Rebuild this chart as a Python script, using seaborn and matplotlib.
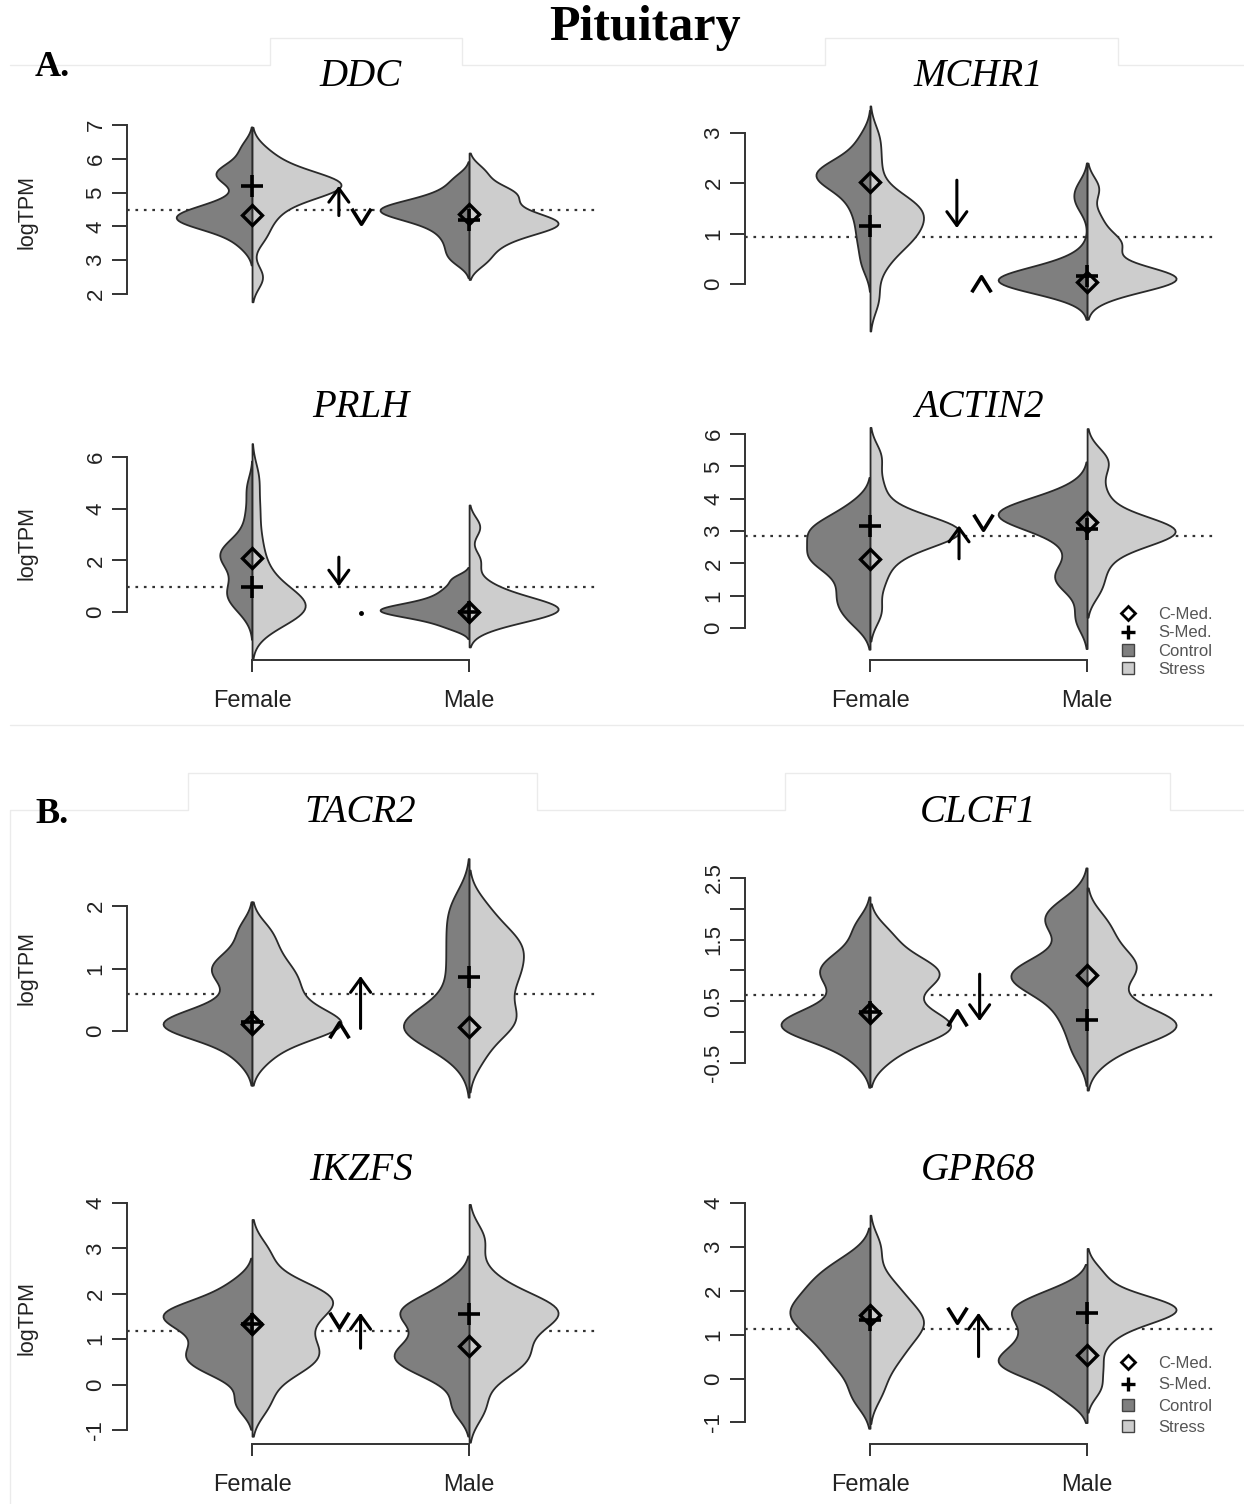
import matplotlib
matplotlib.use("Agg")
import matplotlib.pyplot as plt
from matplotlib.lines import Line2D
from matplotlib.path import Path
import pandas as pd
import seaborn as sns

sns.set_theme(style="white")
plt.rcParams['font.family'] = ['Liberation Sans', 'DejaVu Sans']

""" Données lues sur la figure """
genes = ["DDC", "MCHR1", "PRLH", "ACTIN2", "TACR2", "CLCF1", "IKZFS", "GPR68"]
sexes = ["Female", "Male"]
groups = ["Control", "Stress"]

# logTPM, one list per sex x condition
ddc_f_ctrl = [3.5, 3.9, 4.05, 4.15, 4.2, 4.25, 4.3, 4.35, 4.45, 4.6, 4.8, 5.35, 5.5, 5.6, 5.75, 6.3]
ddc_f_str = [2.5, 3.7, 4.2, 4.5, 4.8, 4.95, 5.05, 5.15, 5.2, 5.25, 5.3, 5.35, 5.45, 5.6, 5.85, 6.2]
ddc_m_ctrl = [3.0, 3.3, 3.6, 3.85, 4.05, 4.2, 4.3, 4.4, 4.45, 4.5, 4.55, 4.6, 4.7, 4.85, 5.05, 5.4]
ddc_m_str = [3.0, 3.4, 3.65, 3.85, 3.95, 4.05, 4.1, 4.15, 4.25, 4.4, 4.6, 4.85, 5.0, 5.1, 5.6]

mchr1_f_ctrl = [0.4, 0.8, 1.1, 1.4, 1.6, 1.8, 1.95, 2.05, 2.1, 2.15, 2.2, 2.25, 2.3, 2.4, 2.6, 2.9]
mchr1_f_str = [-0.3, 0.3, 0.6, 0.8, 0.9, 1.0, 1.1, 1.2, 1.35, 1.45, 1.5, 1.55, 1.65, 1.9, 2.4, 2.9]
mchr1_m_ctrl = [-0.2, -0.05, 0.0, 0.02, 0.04, 0.05, 0.07, 0.1, 0.12, 0.15, 0.2, 0.3, 0.5, 1.6, 1.9]
mchr1_m_str = [-0.2, 0.0, 0.05, 0.08, 0.1, 0.12, 0.15, 0.2, 0.3, 0.7, 0.8, 0.9, 1.3, 1.9]

prlh_f_ctrl = [0.0, 0.4, 0.6, 0.7, 0.9, 1.2, 1.6, 1.9, 2.1, 2.2, 2.3, 2.45, 2.6, 3.0, 3.8, 4.8]
prlh_f_str = [-0.5, -0.2, -0.05, 0.05, 0.1, 0.2, 0.3, 0.45, 0.6, 0.8, 1.1, 1.5, 2.1, 2.9, 4.0, 5.2]
prlh_m_ctrl = [-0.6, -0.35, -0.2, -0.1, 0.0, 0.05, 0.1, 0.15, 0.25, 0.35, 0.5, 0.7, 0.95, 1.3]
prlh_m_str = [-0.5, -0.25, -0.1, 0.0, 0.05, 0.1, 0.15, 0.25, 0.35, 0.5, 0.75, 1.1, 2.0, 3.3]

actin2_f_ctrl = [0.2, 0.6, 0.9, 1.2, 1.6, 1.9, 2.1, 2.2, 2.3, 2.5, 2.8, 2.95, 3.05, 3.15, 3.4, 3.8]
actin2_f_str = [0.5, 1.4, 2.0, 2.4, 2.65, 2.8, 2.9, 2.95, 3.0, 3.05, 3.1, 3.2, 3.4, 3.7, 4.4, 5.3]
actin2_m_ctrl = [0.3, 1.3, 1.55, 1.75, 2.4, 2.9, 3.2, 3.35, 3.45, 3.5, 3.55, 3.6, 3.7, 3.85, 4.2]
actin2_m_str = [1.2, 1.8, 2.3, 2.6, 2.8, 2.9, 2.95, 3.0, 3.05, 3.1, 3.2, 3.4, 3.8, 4.3, 5.0, 5.3]

tacr2_f_ctrl = [-0.4, -0.1, 0.0, 0.05, 0.1, 0.12, 0.15, 0.2, 0.3, 0.5, 0.8, 0.95, 1.05, 1.2, 1.6]
tacr2_f_str = [-0.4, -0.1, 0.0, 0.05, 0.1, 0.15, 0.2, 0.3, 0.45, 0.6, 0.75, 0.9, 1.05, 1.3, 1.6]
tacr2_m_ctrl = [-0.4, -0.1, 0.0, 0.05, 0.08, 0.1, 0.15, 0.3, 0.6, 0.9, 1.2, 1.5, 1.8, 2.1]
tacr2_m_str = [-0.4, 0.0, 0.1, 0.2, 0.35, 0.55, 0.75, 0.88, 1.0, 1.15, 1.3, 1.4, 1.5, 1.7, 2.0]

clcf1_f_ctrl = [-0.4, -0.1, 0.0, 0.05, 0.1, 0.15, 0.2, 0.3, 0.45, 0.7, 0.9, 1.0, 1.1, 1.3, 1.7]
clcf1_f_str = [-0.4, -0.1, 0.0, 0.05, 0.1, 0.2, 0.3, 0.5, 0.7, 0.85, 0.95, 1.0, 1.1, 1.3, 1.6]
clcf1_m_ctrl = [-0.3, 0.1, 0.35, 0.6, 0.75, 0.85, 0.9, 0.95, 1.0, 1.1, 1.3, 1.7, 1.8, 1.9, 2.1]
clcf1_m_str = [-0.4, -0.1, 0.0, 0.05, 0.1, 0.15, 0.2, 0.3, 0.5, 0.8, 1.0, 1.1, 1.2, 1.5, 1.8]

ikzfs_f_ctrl = [-0.4, 0.2, 0.4, 0.55, 0.65, 0.8, 1.0, 1.2, 1.35, 1.45, 1.55, 1.6, 1.7, 1.85, 2.2]
ikzfs_f_str = [-0.4, 0.2, 0.45, 0.6, 0.7, 0.9, 1.15, 1.35, 1.6, 1.75, 1.85, 1.95, 2.05, 2.3, 2.9]
ikzfs_m_ctrl = [-0.5, 0.1, 0.35, 0.5, 0.6, 0.7, 0.85, 1.05, 1.3, 1.5, 1.6, 1.7, 1.85, 2.2]
ikzfs_m_str = [-0.5, 0.2, 0.45, 0.6, 0.75, 1.0, 1.25, 1.45, 1.55, 1.6, 1.7, 1.8, 2.0, 2.4, 3.2]

gpr68_f_ctrl = [-0.4, 0.2, 0.5, 0.8, 1.0, 1.2, 1.4, 1.5, 1.6, 1.8, 2.0, 2.2, 2.4, 2.7]
gpr68_f_str = [-0.3, 0.2, 0.5, 0.7, 0.9, 1.1, 1.25, 1.3, 1.4, 1.6, 1.8, 2.0, 2.3, 3.0]
gpr68_m_ctrl = [-0.4, 0.0, 0.2, 0.3, 0.4, 0.55, 0.7, 0.9, 1.1, 1.3, 1.5, 1.6, 1.75, 2.0]
gpr68_m_str = [-0.2, 0.3, 0.8, 1.1, 1.3, 1.4, 1.5, 1.55, 1.6, 1.65, 1.7, 1.8, 2.0, 2.4]

samples = [
    (ddc_f_ctrl, ddc_f_str, ddc_m_ctrl, ddc_m_str),
    (mchr1_f_ctrl, mchr1_f_str, mchr1_m_ctrl, mchr1_m_str),
    (prlh_f_ctrl, prlh_f_str, prlh_m_ctrl, prlh_m_str),
    (actin2_f_ctrl, actin2_f_str, actin2_m_ctrl, actin2_m_str),
    (tacr2_f_ctrl, tacr2_f_str, tacr2_m_ctrl, tacr2_m_str),
    (clcf1_f_ctrl, clcf1_f_str, clcf1_m_ctrl, clcf1_m_str),
    (ikzfs_f_ctrl, ikzfs_f_str, ikzfs_m_ctrl, ikzfs_m_str),
    (gpr68_f_ctrl, gpr68_f_str, gpr68_m_ctrl, gpr68_m_str),
]

# medians (C-Med = control, S-Med = stress) and dotted reference line
c_med_female = [4.34, 2.03, 2.10, 2.14, 0.12, 0.31, 1.34, 1.46]
c_med_male = [4.37, 0.03, 0.00, 3.27, 0.07, 0.93, 0.84, 0.54]
s_med_female = [5.19, 1.15, 0.99, 3.14, 0.15, 0.32, 1.33, 1.33]
s_med_male = [4.20, 0.16, 0.00, 3.07, 0.86, 0.19, 1.56, 1.49]
ref_line = [4.47, 0.93, 0.97, 2.84, 0.585, 0.61, 1.19, 1.12]

# arrows (change direction) and chevrons between the sexes
arrow_x = [0.40, 0.40, 0.40, 0.41, 0.50, 0.505, 0.50, 0.50]
arrow_from = [4.32, 2.06, 2.13, 2.14, 0.04, 0.94, 0.80, 0.50]
arrow_to = [5.20, 1.11, 0.99, 3.17, 0.88, 0.18, 1.58, 1.50]
chevron_x = [0.50, 0.51, 0.50, 0.52, 0.40, 0.40, 0.40, 0.40]
chevron_y = [4.32, 0.00, -0.03, 3.27, 0.02, 0.23, 1.43, 1.46]
chevron_kind = ["v", "^", ".", "v", "^", "^", "v", "v"]

# axis ticks per gene
ticks = [
    [2, 3, 4, 5, 6, 7],
    [0, 1, 2, 3],
    [0, 2, 4, 6],
    [0, 1, 2, 3, 4, 5, 6],
    [0, 1, 2],
    [-0.5, 0, 0.5, 1, 1.5, 2, 2.5],
    [-1, 0, 1, 2, 3, 4],
    [-1, 0, 1, 2, 3, 4],
]
tick_labels = [
    ["2", "3", "4", "5", "6", "7"],
    ["0", "1", "2", "3"],
    ["0", "2", "4", "6"],
    ["0", "1", "2", "3", "4", "5", "6"],
    ["0", "1", "2"],
    ["-0.5", "", "0.5", "", "1.5", "", "2.5"],
    ["-1", "0", "1", "2", "3", "4"],
    ["-1", "0", "1", "2", "3", "4"],
]

""" Mise en page (pixels) """
W, H = 1244, 1504
def fx(px):
    return px / W
def fy(py):
    return 1 - py / H

col_left = [127, 745]
axw = 468
xlim = (-0.576, 1.58)
rows = [(80, 330), (420, 660), (845, 1100), (1185, 1444)]
ylims = [(0.935, 8.33), (-0.915, 4.05), (-1.857, 7.446), (-0.99, 6.433),
         (-1.104, 2.976), (-1.10, 3.035), (-1.308, 4.396), (-1.495, 4.418)]
title_y = [77, 408, 812, 1170]
ylab_y = [212, 543, 968, 1318]

ctrl_col, str_col = "#7f7f7f", "#cdcdcd"
ink = "#222222"

chev_paths = {
    "v": Path([(-1, 0.8), (0, -0.8), (1, 0.8)], [Path.MOVETO, Path.LINETO, Path.LINETO]),
    "^": Path([(-1, -0.8), (0, 0.8), (1, -0.8)], [Path.MOVETO, Path.LINETO, Path.LINETO]),
}

fig = plt.figure(figsize=(W / 100, H / 100), dpi=100)
fig.patch.set_facecolor("white")

# cadres gris clair hérités du montage
frame_lines = [
    [(10, 65), (270, 65), (270, 38), (462, 38), (462, 65), (825, 65), (825, 38), (1118, 38), (1118, 65), (1244, 65)],
    [(10, 725), (1244, 725)],
    [(10, 1504), (10, 810), (188, 810), (188, 773), (537, 773), (537, 810), (785, 810), (785, 773), (1170, 773), (1170, 810), (1244, 810)],
]
for pl in frame_lines:
    fig.add_artist(Line2D([fx(p[0]) for p in pl], [fy(p[1]) for p in pl],
                          transform=fig.transFigure, color="#ebebeb", lw=1.0))

for i, gene in enumerate(genes):
    r, c = i // 2, i % 2
    top, bot = rows[r]
    ax = fig.add_axes([fx(col_left[c]), fy(bot), axw / W, (bot - top) / H])
    ax.patch.set_alpha(0)

    f_ctrl, f_str, m_ctrl, m_str = samples[i]
    recs = []
    for sex, grp, vals in [("Female", "Control", f_ctrl), ("Female", "Stress", f_str),
                           ("Male", "Control", m_ctrl), ("Male", "Stress", m_str)]:
        recs += [(sex, grp, v) for v in vals]
    df = pd.DataFrame(recs, columns=["sex", "group", "logTPM"])

    ax.axhline(ref_line[i], color="#333333", ls=(0, (1.2, 2.6)), lw=1.6, zorder=0)
    sns.violinplot(data=df, x="sex", y="logTPM", hue="group", order=sexes, hue_order=groups,
                   split=True, inner=None, density_norm="area", width=0.82, cut=2.2,
                   bw_adjust=0.65, saturation=1, palette={"Control": ctrl_col, "Stress": str_col},
                   linecolor="#2a2a2a", linewidth=1.3, legend=False, ax=ax)
    for coll in ax.collections:
        coll.set_clip_on(False)

    # medians
    ax.plot([0, 1], [c_med_female[i], c_med_male[i]], ls="none", marker="D", ms=10,
            mfc="none", mec="black", mew=2.4, zorder=5, clip_on=False)
    ax.plot([0, 1], [s_med_female[i], s_med_male[i]], ls="none", marker="+", ms=16,
            mec="black", mew=2.6, zorder=6, clip_on=False)

    # arrow + chevron
    ax.annotate("", xy=(arrow_x[i], arrow_to[i]), xytext=(arrow_x[i], arrow_from[i]),
                arrowprops=dict(arrowstyle="->,head_length=0.55,head_width=0.4", lw=2.2,
                                color="black", shrinkA=0, shrinkB=0, mutation_scale=18),
                zorder=7)
    if chevron_kind[i] == ".":
        ax.plot(chevron_x[i], chevron_y[i], ls="none", marker="o", ms=2.5, color="black")
    else:
        ax.plot(chevron_x[i], chevron_y[i], ls="none", marker=chev_paths[chevron_kind[i]],
                ms=14, mfc="none", mec="black", mew=2.6, zorder=7)

    ax.set_xlim(*xlim)
    ax.set_ylim(*ylims[i])
    ax.set_xlabel("")
    ax.set_ylabel("")

    for s in ["top", "right"]:
        ax.spines[s].set_visible(False)
    ax.spines["left"].set_bounds(ticks[i][0], ticks[i][-1])
    ax.spines["left"].set_color("#333333")
    ax.spines["left"].set_linewidth(1.4)
    ax.set_yticks(ticks[i])
    ax.set_yticklabels(tick_labels[i])
    ax.tick_params(axis="y", direction="out", length=10.8, width=1.4, color="#333333",
                   pad=4, labelsize=16, labelcolor=ink, labelrotation=90, left=True)
    for lab in ax.get_yticklabels():
        lab.set_va("center")

    if r in (1, 3):
        ax.spines["bottom"].set_bounds(0, 1)
        ax.spines["bottom"].set_color("#333333")
        ax.spines["bottom"].set_linewidth(1.4)
        ax.spines["bottom"].set_zorder(8)
        ax.xaxis.set_ticks_position("bottom")
        ax.set_xticks([0, 1])
        ax.set_xticklabels(sexes)
        ax.tick_params(axis="x", direction="out", length=8.6, width=1.4, color="#333333",
                       pad=13, labelsize=17, labelcolor=ink, bottom=True)
    else:
        ax.spines["bottom"].set_visible(False)
        ax.set_xticks([])

    # gene title
    fig.text(fx(col_left[c] + (0.5 - xlim[0]) * axw / (xlim[1] - xlim[0])), fy(title_y[r]), gene,
             family="Liberation Serif", style="italic", fontsize=28, color="black",
             ha="center", va="center")
    if c == 0:
        fig.text(fx(27), fy(ylab_y[r]), "logTPM", rotation=90, fontsize=15.5,
                 color=ink, ha="center", va="center")

    # legend on the last panel of each section
    if i in (3, 7):
        handles = [
            Line2D([], [], ls="none", marker="D", ms=7, mfc="none", mec="black", mew=2),
            Line2D([], [], ls="none", marker="+", ms=10, mec="black", mew=2.4),
            Line2D([], [], ls="none", marker="s", ms=8, mfc=ctrl_col, mec="#444444", mew=1),
            Line2D([], [], ls="none", marker="s", ms=8, mfc=str_col, mec="#444444", mew=1),
        ]
        top_px = 607 if i == 3 else 1356
        spacing = 0.2 if i == 3 else 0.38
        ax.legend(handles, ["C-Med.", "S-Med.", "Control", "Stress"], loc="upper left",
                  bbox_to_anchor=(fx(1120), fy(top_px)), bbox_transform=fig.transFigure,
                  frameon=False, fontsize=12, labelcolor="#555555", handlelength=1.0,
                  handletextpad=1.3, labelspacing=spacing, borderpad=0, borderaxespad=0)

fig.text(fx(645), fy(28), "Pituitary", family="Liberation Serif", weight="bold",
         fontsize=36, ha="center", va="center", color="black")
fig.text(fx(35), fy(68), "A.", family="Liberation Serif", weight="bold",
         fontsize=26, ha="left", va="center", color="black")
fig.text(fx(35), fy(815), "B.", family="Liberation Serif", weight="bold",
         fontsize=26, ha="left", va="center", color="black")

fig.savefig("out.png", dpi=100, facecolor="white")
